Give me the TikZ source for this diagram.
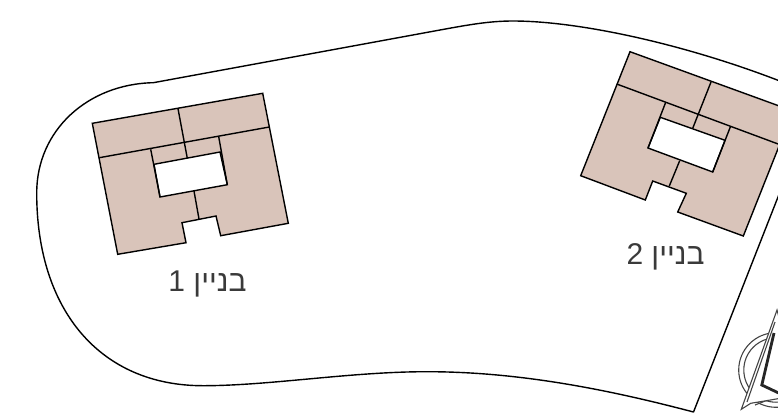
\documentclass[tikz,border=0pt]{standalone}
\usepackage{fontspec}
\newfontfamily\hebfont[Script=Hebrew]{Liberation Sans}
\TeXXeTstate=1
\definecolor{wallfill}{HTML}{D9C4BA}
\definecolor{labelgray}{HTML}{3A3A3A}
\definecolor{logogray}{HTML}{444444}
\tikzset{
  plotline/.style={draw=black,line width=1.4pt,line join=round},
  bldg/.style={draw=black,fill=wallfill,line width=1.4pt,line join=miter},
  inner/.style={draw=black,line width=1.4pt},
  court/.style={draw=black,fill=white,line width=1.4pt,line join=miter},
  bldglabel/.style={font=\hebfont\fontsize{30}{30}\selectfont,text=labelgray,anchor=base,inner sep=0pt},
  logoline/.style={draw=logogray,line width=1.1pt}
}
\begin{document}
\begin{tikzpicture}[x=1pt,y=-1pt]
\useasboundingbox (0,0) rectangle (778,413);
\clip (0,0) rectangle (778,413);
% site outline
\draw[plotline]
  (693.5,412) -- (822,85) -- (790,85)
  .. controls (690,45) and (580,21) .. (513,21)
  .. controls (490,21) and (470,24.5) .. (440,30)
  -- (153.3,82.7)
  .. controls (88,84) and (36.7,130) .. (36.7,193)
  .. controls (36.7,310) and (100,385.7) .. (203,385.7)
  .. controls (270,385.7) and (350,371.7) .. (427,371.7)
  .. controls (520,371.7) and (610,390) .. (693.5,412) -- cycle;
% building 1
\draw[bldg] (92.3,123.3) -- (262.7,93.3) -- (288.3,223.3) -- (220.7,235.7) -- (216,216) -- (182,222.7) -- (186,242.7) -- (117.7,254.3) -- cycle;
\draw[court] (154,164.3) -- (220,152) -- (227.3,184.7) -- (160,197) -- cycle;
\draw[inner] (99.3,157.7) -- (269.3,127);
\draw[inner] (178,108.7) -- (187.3,158.3);
\draw[inner] (150.7,149.3) -- (160,197);
\draw[inner] (218.7,136.7) -- (227.3,184.7);
\draw[inner] (194,191) -- (199,219);
% building 2
\draw[bldg] (630,51.7) -- (793,111) -- (743.3,236) -- (677.7,212) -- (686.3,193.3) -- (652.7,181) -- (645.3,200) -- (580.7,175.7) -- cycle;
\draw[court] (660.3,117.3) -- (725,140.3) -- (712.7,172) -- (648,148) -- cycle;
\draw[inner] (616.7,84) -- (780,144.7);
\draw[inner] (711,82) -- (692.7,128.3);
\draw[inner] (665.7,102.3) -- (648,148);
\draw[inner] (730.3,127) -- (712.7,172);
\draw[inner] (679.7,160.7) -- (669.3,186);
% labels
\node[bldglabel] (label1) at (207.5,291) {\beginR בניין 1\endR};
\node[bldglabel] (label2) at (665.5,264) {\beginR בניין 2\endR};
% compass logo
\draw[logoline,fill=white] (776,370) circle (37.3);
\draw[logoline,fill=white] (776,370) circle (32.2);
\draw[logoline] (750,403) -- (778,392);
\draw[logoline] (755,405) -- (778,396);
\draw[logoline,fill=white] (777,310) -- (741.3,409.3) -- (750.7,403.3) -- (800,395) -- cycle;
\draw[logoline] (775,322) -- (747,402);
\draw[draw=black!85,line width=2.8pt,line join=miter] (774,333) -- (761.8,385) -- (785,396);
\end{tikzpicture}
\end{document}
